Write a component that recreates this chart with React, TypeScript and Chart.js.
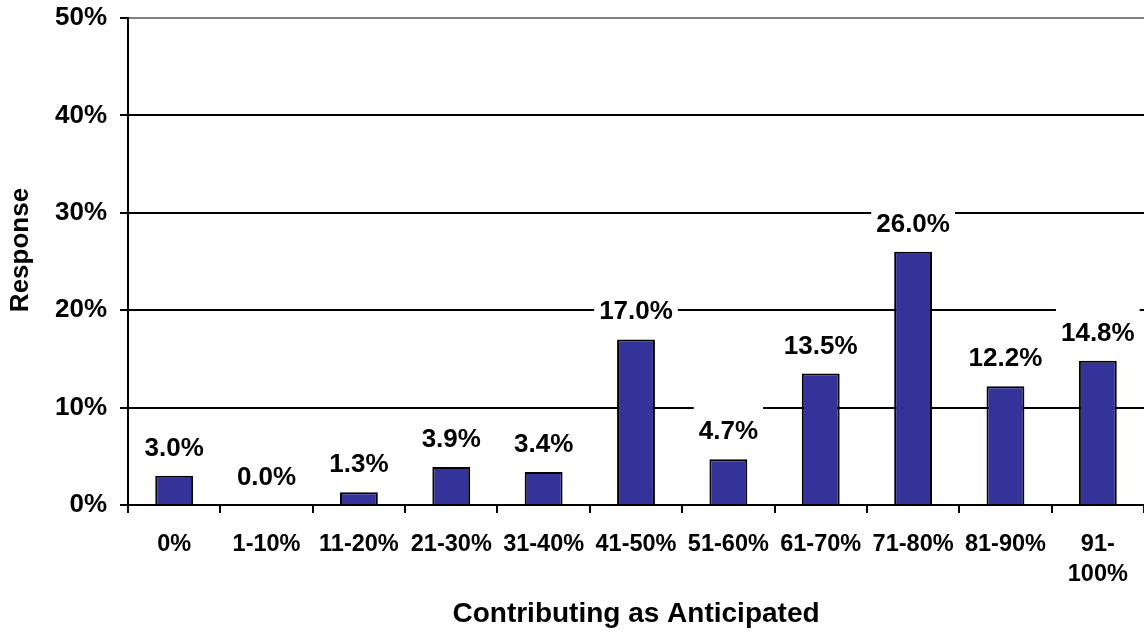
import React, { useEffect, useRef } from "react";
import { Chart, registerables } from "chart.js";

Chart.register(...registerables);

const categories: (string | string[])[] = [
  "0%", "1-10%", "11-20%", "21-30%", "31-40%", "41-50%", "51-60%", "61-70%", "71-80%", "81-90%", ["91-", "100%"],
];
const responses: number[] = [3.0, 0.0, 1.3, 3.9, 3.4, 17.0, 4.7, 13.5, 26.0, 12.2, 14.8];
const yTicks: number[] = [0, 10, 20, 30, 40, 50];
const xTitle = "Contributing as Anticipated";
const yTitle = "Response";

const FONT = "'Liberation Sans', Arial, sans-serif";

const labelPlugin = {
  id: "boxedLabels",
  afterDatasetsDraw(chart: any) {
    const ctx = chart.ctx;
    const meta = chart.getDatasetMeta(0);
    ctx.save();
    ctx.font = `bold 26px ${FONT}`;
    ctx.textAlign = "center";
    ctx.textBaseline = "alphabetic";
    meta.data.forEach((bar: any, i: number) => {
      const v = responses[i];
      const text = v.toFixed(1) + "%";
      const base = bar.y - 20;
      const w = ctx.measureText(text).width;
      ctx.fillStyle = "#ffffff";
      ctx.fillRect(bar.x - w / 2 - 5, base - 34, w + 10, 40);
      ctx.fillStyle = "#000000";
      ctx.fillText(text, bar.x, base);
    });
    ctx.restore();
  },
  afterDraw(chart: any) {
    const ctx = chart.ctx;
    ctx.save();
    ctx.font = `bold 26px ${FONT}`;
    ctx.fillStyle = "#000000";
    ctx.textAlign = "center";
    ctx.textBaseline = "middle";
    ctx.translate(21, 250);
    ctx.rotate(-Math.PI / 2);
    ctx.fillText(yTitle, 0, 0);
    ctx.restore();
  },
};

export default function App() {
  const ref = useRef<HTMLCanvasElement | null>(null);
  useEffect(() => {
    if (!ref.current) return;
    const chart = new Chart(ref.current, {
      type: "bar",
      data: {
        labels: categories,
        datasets: [
          {
            data: responses,
            backgroundColor: "#333399",
            borderColor: "#000000",
            borderWidth: 2,
            barPercentage: 0.41,
            categoryPercentage: 1,
          },
        ],
      },
      plugins: [labelPlugin],
      options: {
        animation: false,
        responsive: true,
        maintainAspectRatio: false,
        layout: { padding: { top: 18, right: 0, left: 0, bottom: 0 } },
        plugins: { legend: { display: false }, tooltip: { enabled: false } },
        scales: {
          x: {
            offset: true,
            grid: {
              offset: true,
              drawOnChartArea: false,
              drawTicks: true,
              tickLength: 8,
              color: "#000000",
              lineWidth: 2,
            },
            border: { display: true, color: "#000000", width: 2 },
            ticks: {
              color: "#000000",
              font: { family: FONT, size: 23.5, weight: "bold", lineHeight: 1.3 },
              padding: 16,
              maxRotation: 0,
              autoSkip: false,
            },
            title: {
              display: true,
              text: xTitle,
              color: "#000000",
              font: { family: FONT, size: 28, weight: "bold" },
              padding: { top: 0, bottom: 8 },
            },
            afterFit: (scale: any) => {
              scale.height = 134;
              scale.paddingLeft = 0;
              scale.paddingRight = 0;
            },
          },
          y: {
            min: 0,
            max: 50,
            afterBuildTicks: (scale: any) => {
              scale.ticks = yTicks.map((v) => ({ value: v }));
            },
            grid: {
              color: (c: any) => (c.tick && c.tick.value === 50 ? "#808080" : "#000000"),
              lineWidth: 2,
              drawTicks: true,
              tickLength: 8,
              tickColor: "#000000",
            },
            border: { display: true, color: "#000000", width: 2 },
            ticks: {
              color: "#000000",
              font: { family: FONT, size: 26, weight: "bold" },
              padding: 13,
              callback: (v: any) => v + "%",
            },
            title: { display: false },
            afterFit: (scale: any) => {
              scale.width = 128;
              scale.paddingTop = 0;
              scale.paddingBottom = 0;
            },
          },
        },
      },
    } as any);
    return () => chart.destroy();
  }, []);
  return (
    <div style={{ position: "absolute", left: 0, top: 0, width: 1144, height: 639, background: "#fff" }}>
      <canvas ref={ref} />
    </div>
  );
}
